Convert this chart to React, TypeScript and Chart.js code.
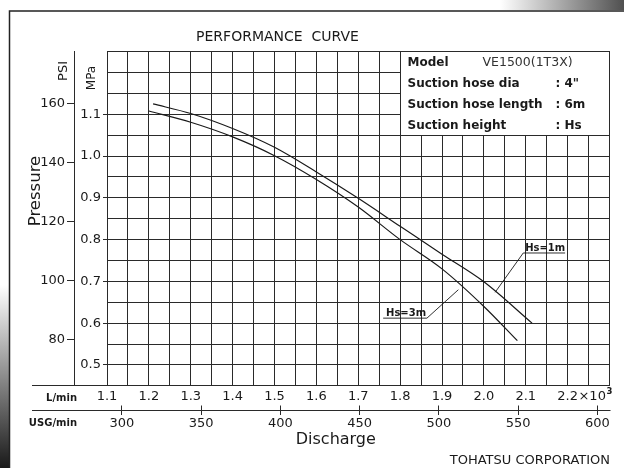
import React, { useEffect, useRef } from 'react';
import { Chart, registerables } from 'chart.js';

Chart.register(...registerables);

const FONT = '"DejaVu Sans", "Liberation Sans", sans-serif';
const INK = '#1a1a1a';
const GRID = '#2a2a2a';

// Discharge in L/min (x10^3), pressure in MPa
const hs1Discharge = [1.21, 1.3, 1.4, 1.5, 1.6, 1.7, 1.8, 1.9, 2.0, 2.115];
const hs1Pressure = [1.125, 1.102, 1.066, 1.021, 0.962, 0.899, 0.832, 0.765, 0.699, 0.6];
const hs3Discharge = [1.2, 1.3, 1.4, 1.5, 1.6, 1.7, 1.8, 1.9, 2.0, 2.08];
const hs3Pressure = [1.108, 1.081, 1.046, 1.001, 0.944, 0.878, 0.8, 0.73, 0.64, 0.558];

const dischargeRange = [1.1, 2.3];
const pressureRange = [0.45, 1.25];
const psiRange = [64.2, 177.7];
const gridStep = 0.05;
const lminLabels = [1.1, 1.2, 1.3, 1.4, 1.5, 1.6, 1.7, 1.8, 1.9, 2.0, 2.1, 2.2];
const mpaLabels = [0.5, 0.6, 0.7, 0.8, 0.9, 1.0, 1.1];
const psiTicks = [80, 100, 120, 140, 160];
const usgTicks = [300, 350, 400, 450, 500, 550, 600];
const LITRES_PER_USG = 3.785411784;

const infoLabels = ['Model', 'Suction hose dia', 'Suction hose length', 'Suction height'];
const infoValues = ['VE1500(1T3X)', ': 4"', ': 6m', ': Hs'];
const infoBoxDischarge = [1.8, 2.3];
const infoBoxPressure = [1.05, 1.25];

const hs1LeaderX = [2.027, 2.094, 2.194];
const hs1LeaderY = [0.674, 0.768, 0.768];
const hs3LeaderX = [1.939, 1.864, 1.7595];
const hs3LeaderY = [0.68, 0.612, 0.612];
const curveLabels = ['Hs=1m', 'Hs=3m'];

const stepsBetween = (lo: number, hi: number, step: number) => {
  const n = Math.round((hi - lo) / step);
  const out: number[] = [];
  for (let i = 0; i <= n; i++) out.push(Math.round((lo + i * step) * 1000) / 1000);
  return out;
};
const dischargeGrid = stepsBetween(dischargeRange[0], dischargeRange[1], gridStep);
const pressureGrid = stepsBetween(pressureRange[0], pressureRange[1], gridStep);
const inList = (v: number, list: number[]) => list.some((l) => Math.abs(l - v) < 1e-6);
const pts = (xs: number[], ys: number[]) => xs.map((x, i) => ({ x, y: ys[i] }));
const align = (p: number) => Math.round(p - 0.5) + 0.5;

const decorPlugin = {
  id: 'decor',
  beforeDraw(chart: any) {
    const { ctx, width, height } = chart;
    ctx.save();
    ctx.fillStyle = '#ffffff';
    ctx.fillRect(0, 0, width, height);
    let g = ctx.createLinearGradient(500, 0, width, 0);
    g.addColorStop(0, 'rgba(80,80,80,0)');
    g.addColorStop(1, 'rgba(80,80,80,1)');
    ctx.fillStyle = g;
    ctx.fillRect(500, 0, width - 500, 10);
    g = ctx.createLinearGradient(0, 285, 0, height);
    g.addColorStop(0, 'rgba(25,25,25,0)');
    g.addColorStop(1, 'rgba(25,25,25,1)');
    ctx.fillStyle = g;
    ctx.fillRect(0, 285, 9, height - 285);
    ctx.strokeStyle = '#222';
    ctx.lineWidth = 1.5;
    ctx.beginPath();
    ctx.moveTo(9.5, height);
    ctx.lineTo(9.5, 11);
    ctx.lineTo(width, 11);
    ctx.stroke();
    ctx.restore();
  },
  afterDraw(chart: any) {
    const { ctx, chartArea } = chart;
    const xs = chart.scales.x;
    const x2s = chart.scales.x2;
    const ys = chart.scales.y;
    ctx.save();

    // info box
    const bx0 = align(xs.getPixelForValue(infoBoxDischarge[0]));
    const bx1 = align(xs.getPixelForValue(infoBoxDischarge[1]));
    const by0 = align(ys.getPixelForValue(infoBoxPressure[1]));
    const by1 = align(ys.getPixelForValue(infoBoxPressure[0]));
    ctx.fillStyle = '#fff';
    ctx.fillRect(bx0, by0, bx1 - bx0, by1 - by0);
    ctx.strokeStyle = GRID;
    ctx.lineWidth = 1;
    ctx.strokeRect(bx0, by0, bx1 - bx0, by1 - by0);
    const rowH = (by1 - by0) / infoLabels.length;
    ctx.textBaseline = 'middle';
    ctx.textAlign = 'left';
    infoLabels.forEach((lab, i) => {
      const cy = by0 + rowH * (i + 0.5) + 1;
      ctx.fillStyle = INK;
      ctx.font = `bold 12px ${FONT}`;
      ctx.fillText(lab, bx0 + 7, cy);
      if (i === 0) {
        ctx.font = `12.5px ${FONT}`;
        ctx.fillStyle = '#333';
        ctx.fillText(infoValues[i], bx0 + 82, cy);
      } else {
        ctx.fillText(infoValues[i], bx0 + 155, cy);
      }
    });

    // title
    ctx.fillStyle = INK;
    ctx.textAlign = 'center';
    ctx.textBaseline = 'alphabetic';
    ctx.font = `14px ${FONT}`;
    ctx.fillText('PERFORMANCE  CURVE', 277.5, 40.7);

    // axis extensions
    ctx.strokeStyle = GRID;
    ctx.lineWidth = 1;
    const yL = align(xs.top);
    const yU = align(x2s.top);
    ctx.beginPath();
    ctx.moveTo(32, yL);
    ctx.lineTo(chartArea.left + 1, yL);
    ctx.moveTo(32, yU);
    ctx.lineTo(chartArea.right + 1, yU);
    usgTicks.forEach((v) => {
      const px = align(x2s.getPixelForValue(v));
      ctx.moveTo(px, yU - 5);
      ctx.lineTo(px, yU);
    });
    ctx.stroke();

    // unit texts
    ctx.fillStyle = INK;
    ctx.textAlign = 'right';
    ctx.font = `bold 10px ${FONT}`;
    ctx.fillText('L/min', 77, 400.5);
    ctx.fillText('USG/min', 77, 425.5);

    // x10^3
    ctx.font = `13px ${FONT}`;
    ctx.textAlign = 'left';
    ctx.textBaseline = 'middle';
    const x22 = xs.getPixelForValue(2.2);
    const w22 = ctx.measureText('2.2').width;
    const ly = xs.top + 3 + 7.8;
    ctx.fillText('\u00d710', x22 + w22 / 2 + 0.5, ly);
    const wx = ctx.measureText('\u00d710').width;
    ctx.font = `bold 8.5px ${FONT}`;
    ctx.fillText('3', x22 + w22 / 2 + 1 + wx, ly - 5);

    // axis titles
    ctx.textAlign = 'center';
    ctx.textBaseline = 'alphabetic';
    ctx.font = `16px ${FONT}`;
    ctx.fillText('Discharge', 335.8, 444);
    ctx.textAlign = 'right';
    ctx.font = `13px ${FONT}`;
    ctx.fillText('TOHATSU CORPORATION', 610, 464);

    const rot = (text: string, x: number, y: number, font: string) => {
      ctx.save();
      ctx.translate(x, y);
      ctx.rotate(-Math.PI / 2);
      ctx.font = font;
      ctx.textAlign = 'center';
      ctx.textBaseline = 'alphabetic';
      ctx.fillText(text, 0, 0);
      ctx.restore();
    };
    rot('Pressure', 40, 191, `16.5px ${FONT}`);
    rot('PSI', 67, 71, `13px ${FONT}`);
    rot('MPa', 95, 78, `12px ${FONT}`);

    // curve labels
    ctx.font = `bold 10px ${FONT}`;
    ctx.textAlign = 'center';
    const lbl = (text: string, lx: number[], ly2: number[]) => {
      const a = xs.getPixelForValue(lx[1]);
      const b = xs.getPixelForValue(lx[2]);
      const y = ys.getPixelForValue(ly2[1]);
      ctx.fillText(text, (a + b) / 2 + 1, y - 2);
    };
    lbl(curveLabels[0], hs1LeaderX, hs1LeaderY);
    lbl(curveLabels[1], hs3LeaderX, hs3LeaderY);

    ctx.restore();
  },
};

export default function App() {
  const ref = useRef<HTMLCanvasElement>(null);
  useEffect(() => {
    document.body.style.margin = '0';
    const canvas = ref.current as HTMLCanvasElement;
    const tickFont = { size: 13, family: FONT };
    const chart = new Chart(canvas, {
      type: 'line',
      data: {
        datasets: [
          {
            label: curveLabels[0],
            data: pts(hs1Discharge, hs1Pressure),
            borderColor: INK,
            borderWidth: 1.2,
            pointRadius: 0,
            cubicInterpolationMode: 'monotone',
            fill: false,
          },
          {
            label: curveLabels[1],
            data: pts(hs3Discharge, hs3Pressure),
            borderColor: INK,
            borderWidth: 1.2,
            pointRadius: 0,
            cubicInterpolationMode: 'monotone',
            fill: false,
          },
          {
            label: 'leader1',
            data: pts(hs1LeaderX, hs1LeaderY),
            borderColor: INK,
            borderWidth: 0.9,
            pointRadius: 0,
            tension: 0,
            fill: false,
          },
          {
            label: 'leader3',
            data: pts(hs3LeaderX, hs3LeaderY),
            borderColor: INK,
            borderWidth: 0.9,
            pointRadius: 0,
            tension: 0,
            fill: false,
          },
        ],
      } as any,
      options: {
        animation: false,
        responsive: false,
        devicePixelRatio: 1,
        layout: { padding: { top: 51.7, right: 14.5, bottom: 28, left: 0 } },
        plugins: { legend: { display: false }, tooltip: { enabled: false }, title: { display: false } },
        scales: {
          x: {
            type: 'linear',
            position: 'bottom',
            weight: 0,
            min: dischargeRange[0],
            max: dischargeRange[1],
            afterBuildTicks: (s: any) => {
              s.ticks = dischargeGrid.map((v) => ({ value: v }));
            },
            afterFit: (s: any) => {
              s.height = 24.2;
            },
            ticks: {
              autoSkip: false,
              maxRotation: 0,
              minRotation: 0,
              padding: 3,
              color: INK,
              font: tickFont,
              callback: (v: any) => (inList(Number(v), lminLabels) ? Number(v).toFixed(1) : ''),
            },
            grid: { color: GRID, lineWidth: 1, drawTicks: false },
            border: { display: true, color: GRID, width: 1 },
          },
          x2: {
            type: 'linear',
            position: 'bottom',
            weight: 1,
            min: (dischargeRange[0] * 1000) / LITRES_PER_USG,
            max: (dischargeRange[1] * 1000) / LITRES_PER_USG,
            afterBuildTicks: (s: any) => {
              s.ticks = usgTicks.map((v) => ({ value: v }));
            },
            afterFit: (s: any) => {
              s.height = 30;
            },
            ticks: {
              autoSkip: false,
              maxRotation: 0,
              minRotation: 0,
              padding: 1,
              color: INK,
              font: tickFont,
              callback: (v: any) => String(v),
            },
            grid: { drawOnChartArea: false, drawTicks: true, tickLength: 5, color: GRID, lineWidth: 1 },
            border: { display: true, color: GRID, width: 1 },
          },
          y: {
            type: 'linear',
            position: 'left',
            weight: 0,
            min: pressureRange[0],
            max: pressureRange[1],
            afterBuildTicks: (s: any) => {
              s.ticks = pressureGrid.map((v) => ({ value: v }));
            },
            afterFit: (s: any) => {
              s.width = 33;
            },
            ticks: {
              autoSkip: false,
              padding: 2,
              color: INK,
              font: tickFont,
              callback: (v: any) => (inList(Number(v), mpaLabels) ? Number(v).toFixed(1) : ''),
            },
            grid: {
              color: GRID,
              lineWidth: 1,
              drawTicks: true,
              tickLength: 4,
              tickColor: (c: any) =>
                c.tick && inList(c.tick.value, mpaLabels) ? GRID : 'rgba(0,0,0,0)',
            },
            border: { display: true, color: GRID, width: 1 },
          },
          y2: {
            type: 'linear',
            position: 'left',
            weight: 1,
            min: psiRange[0],
            max: psiRange[1],
            afterBuildTicks: (s: any) => {
              s.ticks = psiTicks.map((v) => ({ value: v }));
            },
            afterFit: (s: any) => {
              s.width = 74;
            },
            ticks: {
              autoSkip: false,
              padding: 2,
              color: INK,
              font: tickFont,
              callback: (v: any) => String(v),
            },
            grid: { drawOnChartArea: false, drawTicks: true, tickLength: 7, color: GRID, lineWidth: 1 },
            border: { display: true, color: GRID, width: 1 },
          },
        },
      } as any,
      plugins: [decorPlugin],
    });
    return () => chart.destroy();
  }, []);
  return <canvas ref={ref} width={624} height={468} style={{ display: 'block', width: 624, height: 468 }} />;
}
